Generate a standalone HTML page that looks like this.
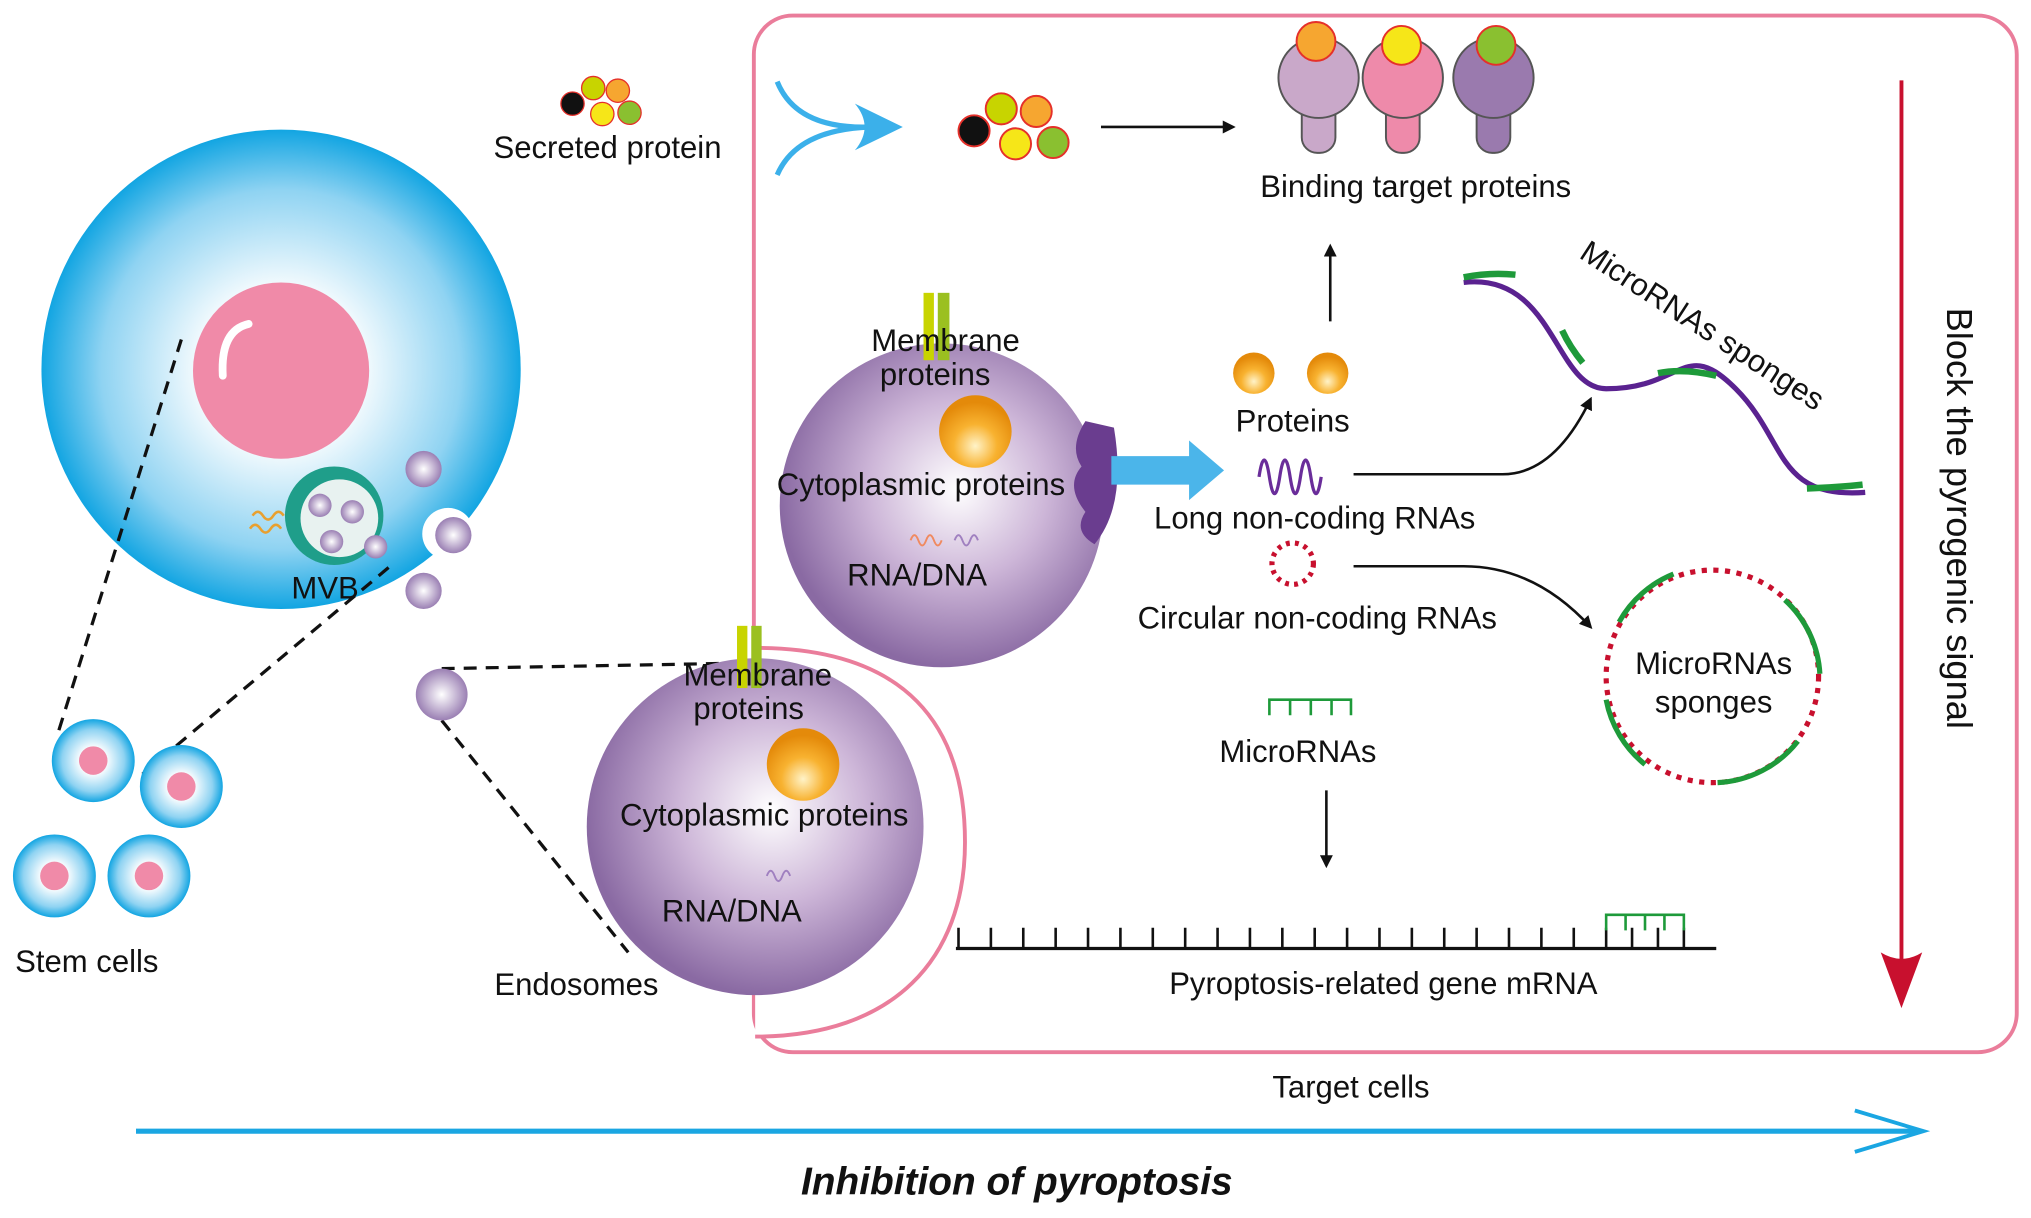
<!DOCTYPE html>
<html><head><meta charset="utf-8"><style>
html,body{margin:0;padding:0;background:#fff;}
svg{display:block}
text{font-family:"Liberation Sans",sans-serif;font-size:24px;fill:#111;text-anchor:middle}
</style></head><body>
<svg width="2031" height="1218" viewBox="0 0 1568 940" preserveAspectRatio="none" xmlns="http://www.w3.org/2000/svg">
<defs>
<radialGradient id="blue" cx="0.5" cy="0.5" r="0.5"><stop offset="0.3" stop-color="#ffffff"/><stop offset="0.75" stop-color="#8fd3f2"/><stop offset="1" stop-color="#12a5e2"/></radialGradient>
<radialGradient id="purp" cx="0.55" cy="0.45" r="0.55"><stop offset="0" stop-color="#ffffff"/><stop offset="0.5" stop-color="#cdb6d8"/><stop offset="1" stop-color="#8a6aa3"/></radialGradient>
<radialGradient id="orange" cx="0.5" cy="0.7" r="0.6"><stop offset="0" stop-color="#fff3c8"/><stop offset="0.5" stop-color="#f8b230"/><stop offset="1" stop-color="#e48a0a"/></radialGradient>
<radialGradient id="ves" cx="0.5" cy="0.5" r="0.5"><stop offset="0" stop-color="#fff"/><stop offset="1" stop-color="#9a7fb3"/></radialGradient>
<marker id="ah" markerWidth="10" markerHeight="10" refX="8" refY="5" orient="auto" markerUnits="userSpaceOnUse"><path d="M0,0 L10,5 L0,10 z" fill="#111"/></marker>
</defs>
<rect x="582" y="12" width="975" height="800" rx="30" fill="none" stroke="#ea7d9b" stroke-width="3"/>
<circle cx="217" cy="285" r="185" fill="url(#blue)"/>
<circle cx="346" cy="412" r="20" fill="#fff"/>
<circle cx="217" cy="286" r="68" fill="#f08aa8"/>
<path d="M172,290 Q170,255 192,250" stroke="#fff" stroke-width="6" fill="none" stroke-linecap="round"/>
<circle cx="258" cy="398" r="38" fill="#1f9e8a"/>
<circle cx="262" cy="400" r="30" fill="#e8f2f0"/>
<circle cx="247" cy="390" r="9" fill="url(#ves)"/><circle cx="272" cy="395" r="9" fill="url(#ves)"/><circle cx="256" cy="418" r="9" fill="url(#ves)"/><circle cx="290" cy="422" r="9" fill="url(#ves)"/>
<path d="M195,398 q4,-6 8,0 t8,0 t8,0 M193,408 q4,-6 8,0 t8,0 t8,0" stroke="#e8a030" stroke-width="2" fill="none"/>
<circle cx="327" cy="362" r="14" fill="url(#ves)"/><circle cx="350" cy="413" r="14" fill="url(#ves)"/><circle cx="327" cy="456" r="14" fill="url(#ves)"/>
<text x="251" y="462">MVB</text>
<g stroke="#111" stroke-width="2.5" stroke-dasharray="10,7" fill="none">
<line x1="140" y1="262" x2="45" y2="565"/><line x1="300" y1="438" x2="107" y2="600"/>
<line x1="341" y1="516" x2="560" y2="512"/><line x1="341" y1="556" x2="485" y2="735"/>
</g>
<g><circle cx="72" cy="587" r="32" fill="url(#blue)"/><circle cx="72" cy="587" r="11" fill="#f08aa8"/>
<circle cx="140" cy="607" r="32" fill="url(#blue)"/><circle cx="140" cy="607" r="11" fill="#f08aa8"/>
<circle cx="42" cy="676" r="32" fill="url(#blue)"/><circle cx="42" cy="676" r="11" fill="#f08aa8"/>
<circle cx="115" cy="676" r="32" fill="url(#blue)"/><circle cx="115" cy="676" r="11" fill="#f08aa8"/></g>
<text x="67" y="750">Stem cells</text>
<circle cx="341" cy="536" r="20" fill="url(#ves)"/>
<path d="M583,500 C700,500 745,560 745,650 C745,740 690,800 583,800" stroke="#ea7d9b" stroke-width="3" fill="#fff"/>
<circle cx="583" cy="638" r="130" fill="url(#purp)"/>
<rect x="569" y="483" width="8" height="48" fill="#c8d400"/><rect x="580" y="483" width="8" height="48" fill="#9bc020"/>
<text x="585" y="529">Membrane</text><text x="578" y="555">proteins</text>
<circle cx="620" cy="590" r="28" fill="url(#orange)"/>
<text x="590" y="637">Cytoplasmic proteins</text>
<path d="M592,676 q3,-8 6,0 t6,0 t6,0" stroke="#a080c0" stroke-width="1.5" fill="none"/>
<text x="565" y="711">RNA/DNA</text>
<text x="445" y="768">Endosomes</text>
<circle cx="727" cy="390" r="125" fill="url(#purp)"/>
<path d="M838,325 Q825,345 835,360 Q822,375 838,395 Q828,410 845,420 Q870,390 860,330 z" fill="#6a3d8f"/>
<rect x="713" y="226" width="8" height="52" fill="#c8d400"/><rect x="724" y="226" width="9" height="52" fill="#9bc020"/>
<text x="730" y="271">Membrane</text><text x="722" y="297">proteins</text>
<circle cx="753" cy="333" r="28" fill="url(#orange)"/>
<text x="711" y="382">Cytoplasmic proteins</text>
<path d="M703,417 q3,-8 6,0 t6,0 t6,0 t6,0" stroke="#f08a60" stroke-width="1.5" fill="none"/>
<path d="M737,417 q3,-8 6,0 t6,0 t6,0" stroke="#a080c0" stroke-width="1.5" fill="none"/>
<text x="708" y="452">RNA/DNA</text>
<path d="M858,352 L918,352 L918,340 L945,363 L918,386 L918,374 L858,374 z" fill="#4bb5ea"/>
<g stroke="#e5302a" stroke-width="1"><circle cx="442" cy="80" r="9" fill="#111"/><circle cx="458" cy="68" r="9" fill="#c8d400"/><circle cx="477" cy="70" r="9" fill="#f6a630"/><circle cx="465" cy="88" r="9" fill="#f6e618"/><circle cx="486" cy="87" r="9" fill="#8ac030"/></g>
<text x="469" y="122">Secreted protein</text>
<path d="M600,63 Q615,100 672,98 M600,135 Q615,100 672,98" stroke="#3bb0ea" stroke-width="4" fill="none"/>
<path d="M660,80 L697,98 L660,116 Q675,98 660,80 z" fill="#3bb0ea"/>
<g stroke="#e5302a" stroke-width="1.5"><circle cx="752" cy="101" r="12" fill="#111"/><circle cx="773" cy="84" r="12" fill="#c8d400"/><circle cx="800" cy="86" r="12" fill="#f6a630"/><circle cx="784" cy="111" r="12" fill="#f6e618"/><circle cx="813" cy="110" r="12" fill="#8ac030"/></g>
<line x1="850" y1="98" x2="952" y2="98" stroke="#111" stroke-width="2" marker-end="url(#ah)"/>
<g stroke="#555" stroke-width="1.5">
<rect x="1005" y="60" width="26" height="58" rx="12" fill="#c9a8c9"/><circle cx="1018" cy="60" r="31" fill="#c9a8c9"/><circle cx="1016" cy="32" r="15" fill="#f6a630" stroke="#e5302a"/>
<rect x="1070" y="60" width="26" height="58" rx="12" fill="#ee8aaa"/><circle cx="1083" cy="60" r="31" fill="#ee8aaa"/><circle cx="1082" cy="35" r="15" fill="#f6e618" stroke="#e5302a"/>
<rect x="1140" y="60" width="26" height="58" rx="12" fill="#9a7aae"/><circle cx="1153" cy="60" r="31" fill="#9a7aae"/><circle cx="1155" cy="35" r="15" fill="#8ac030" stroke="#e5302a"/>
</g>
<text x="1093" y="152">Binding target proteins</text>
<line x1="1027" y1="248" x2="1027" y2="190" stroke="#111" stroke-width="2" marker-end="url(#ah)"/>
<circle cx="968" cy="288" r="16" fill="url(#orange)"/><circle cx="1025" cy="288" r="16" fill="url(#orange)"/>
<text x="998" y="333">Proteins</text>
<path d="M972,368 q4,-26 8,0 t8,0 t8,0 t8,0 t8,0 t8,0" stroke="#6a2d9a" stroke-width="2.5" fill="none"/>
<text x="1015" y="408">Long non-coding RNAs</text>
<path d="M1045,366 L1160,366 Q1200,366 1228,308" stroke="#111" stroke-width="2" fill="none" marker-end="url(#ah)"/>
<path d="M1130,218 C1200,210 1200,300 1240,300 C1300,300 1300,260 1340,300 C1380,340 1370,385 1440,380" stroke="#5a2290" stroke-width="4" fill="none"/>
<g stroke="#1e9a3a" stroke-width="5" fill="none"><path d="M1130,214 Q1150,210 1170,212"/><path d="M1206,255 Q1212,268 1222,280"/><path d="M1280,288 Q1300,284 1325,290"/><path d="M1395,377 Q1420,376 1438,374"/></g>
<text x="1310" y="258" transform="rotate(33 1310 258)">MicroRNAs sponges</text>
<circle cx="998" cy="435" r="16" fill="none" stroke="#c8102e" stroke-width="4" stroke-dasharray="3,4"/>
<text x="1017" y="485">Circular non-coding RNAs</text>
<path d="M1045,437 L1130,437 Q1185,437 1228,484" stroke="#111" stroke-width="2" fill="none" marker-end="url(#ah)"/>
<circle cx="1322" cy="522" r="82" fill="none" stroke="#c8102e" stroke-width="4" stroke-dasharray="4,5"/>
<g stroke="#1e9a3a" stroke-width="4" fill="none">
<path d="M1250,480 A84,84 0 0 1 1292,443"/><path d="M1378,463 A84,84 0 0 1 1405,520"/><path d="M1240,540 A84,84 0 0 0 1270,590"/><path d="M1326,604 A84,84 0 0 0 1388,572"/></g>
<text x="1323" y="520">MicroRNAs</text><text x="1323" y="550">sponges</text>
<path d="M980,552 V540 H1043 V552 M996,540 V552 M1012,540 V552 M1028,540 V552" stroke="#1e9a3a" stroke-width="2" fill="none"/>
<text x="1002" y="588">MicroRNAs</text>
<line x1="1024" y1="610" x2="1024" y2="668" stroke="#111" stroke-width="2" marker-end="url(#ah)"/>
<line x1="738" y1="732" x2="1325" y2="732" stroke="#111" stroke-width="2.5"/>
<path d="M740,732V716M765,732V716M790,732V716M815,732V716M840,732V716M865,732V716M890,732V716M915,732V716M940,732V716M965,732V716M990,732V716M1015,732V716M1040,732V716M1065,732V716M1090,732V716M1115,732V716M1140,732V716M1165,732V716M1190,732V716M1215,732V716M1240,732V716M1260,732V716M1280,732V716M1300,732V716" stroke="#111" stroke-width="2"/>
<path d="M1240,718 V706 H1300 V718 M1255,706 V718 M1270,706 V718 M1285,706 V718" stroke="#1e9a3a" stroke-width="2" fill="none"/>
<text x="1068" y="767">Pyroptosis-related gene mRNA</text>
<line x1="1468" y1="62" x2="1468" y2="745" stroke="#c8102e" stroke-width="3"/>
<path d="M1452,735 L1468,778 L1484,735 Q1468,745 1452,735 z" fill="#c8102e"/>
<text x="1503" y="400" transform="rotate(90 1503 400)" style="font-size:28px">Block the pyrogenic signal</text>
<text x="1043" y="847">Target cells</text>
<line x1="105" y1="873" x2="1480" y2="873" stroke="#1aa6e2" stroke-width="4"/>
<path d="M1432,857 L1485,873 L1432,889" stroke="#1aa6e2" stroke-width="3" fill="none"/>
<text x="785" y="922" style="font-size:30px;font-weight:bold;font-style:italic">Inhibition of pyroptosis</text>
</svg>
</body></html>
